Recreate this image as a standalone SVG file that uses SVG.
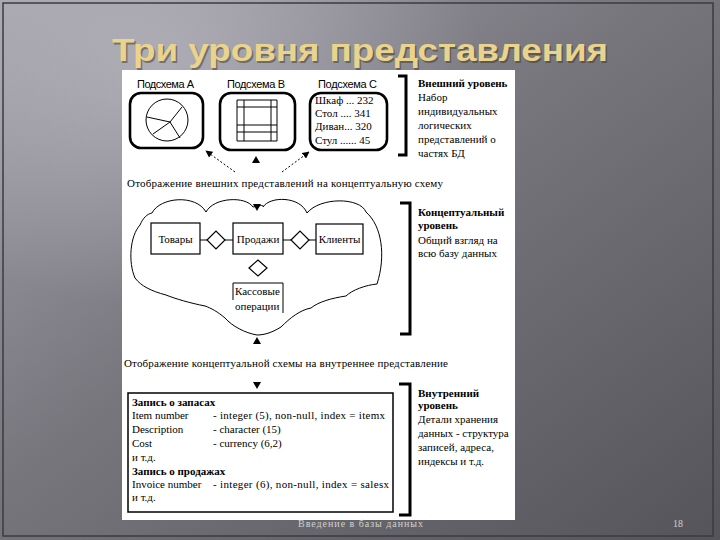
<svg xmlns="http://www.w3.org/2000/svg" width="720" height="540" viewBox="0 0 720 540">
<defs>
<linearGradient id="bg" x1="0" y1="0" x2="1" y2="1">
<stop offset="0" stop-color="#a3a1aa"/>
<stop offset="0.45" stop-color="#77767d"/>
<stop offset="1" stop-color="#55545a"/>
</linearGradient>
<radialGradient id="glow" cx="0.22" cy="0.12" r="0.45">
<stop offset="0" stop-color="#c0bec6" stop-opacity="0.6"/>
<stop offset="1" stop-color="#c0bec6" stop-opacity="0"/>
</radialGradient>
<marker id="ah" viewBox="0 0 10 10" refX="9" refY="5" markerWidth="7" markerHeight="7" orient="auto" markerUnits="userSpaceOnUse">
<path d="M0 0 L10 5 L0 10 Z" fill="#000"/>
</marker>
<style>
.t{font-family:"Liberation Serif","Times New Roman",serif;font-size:11px;fill:#000}
.b{font-weight:bold}
.s{font-family:"Liberation Sans",Arial,sans-serif;font-size:11px;fill:#000}
.box{fill:#fff;stroke:#000;stroke-width:1.2}
.rb{fill:#fff;stroke:#000;stroke-width:2.6}
.ln{fill:none;stroke:#000;stroke-width:1}
.br{fill:none;stroke:#000;stroke-width:3}
.dot{fill:none;stroke:#000;stroke-width:1;stroke-dasharray:2 2}
.tri{fill:#000}
</style>
</defs>
<rect x="0" y="0" width="720" height="540" fill="url(#bg)"/>
<rect x="0" y="0" width="720" height="540" fill="url(#glow)"/>
<rect x="3" y="3" width="710" height="533" fill="none" stroke="#3c3b40" stroke-width="1.5"/>
<text x="360" y="61" text-anchor="middle" font-family="'Liberation Sans',Arial,sans-serif" font-weight="bold" font-size="31" fill="#3a3930" opacity="0.5" textLength="496" lengthAdjust="spacingAndGlyphs" transform="translate(1.5,1.5)">Три уровня представления</text>
<text x="360" y="61" text-anchor="middle" font-family="'Liberation Sans',Arial,sans-serif" font-weight="bold" font-size="31" fill="#ead38c" textLength="496" lengthAdjust="spacingAndGlyphs">Три уровня представления</text>

<rect x="122" y="70" width="393" height="450" fill="#fff"/>

<g id="schemaA">
<text class="s" x="137" y="88" textLength="57">Подсхема А</text>
<rect class="rb" x="130" y="93" width="73" height="55" rx="11"/>
<circle class="ln" cx="167" cy="120" r="21"/>
<path class="ln" d="M147 117 L170 122 L182 107 M170 122 L153 134 M170 122 L180 138"/>
</g>
<g id="schemaB">
<text class="s" x="227" y="88" textLength="58">Подсхема В</text>
<rect class="rb" x="220" y="93" width="75" height="57" rx="11"/>
<path class="ln" d="M237 100 V141 M244 100 V141 M271 100 V141 M277 100 V141 M237 100 H277 M237 107 H277 M237 125 H277 M237 132 H277 M237 141 H277"/>
</g>
<g id="schemaC">
<text class="s" x="318" y="88" textLength="59">Подсхема С</text>
<rect class="rb" x="310" y="93" width="77" height="57" rx="11"/>
<text class="t" x="315" y="104">Шкаф ... 232</text>
<text class="t" x="315" y="117">Стол .... 341</text>
<text class="t" x="315" y="130">Диван... 320</text>
<text class="t" x="315" y="144">Стул ...... 45</text>
</g>
<g id="externalLevel">
<path class="br" d="M398 76 H406 V155 H398"/>
<text class="t b" x="418" y="87">Внешний уровень</text>
<text class="t" x="418" y="101">Набор</text>
<text class="t" x="418" y="115">индивидуальных</text>
<text class="t" x="418" y="129">логических</text>
<text class="t" x="418" y="143">представлений о</text>
<text class="t" x="418" y="157">частях БД</text>
</g>
<g id="mapping1">
<text class="t" x="127" y="187" textLength="316">Отображение внешних представлений на концептуальную схему</text>
</g>

<g id="cloud">
<path class="ln" d="M152 213 C160 197 196 194 206 212 C214 197 246 196 253 207 C262 205 264 205 263 207 C270 196 300 196 307 213 C320 197 360 197 366 212 C382 226 386 256 377 284 C366 285 352 290 346 296 C332 298 318 302 311 308 C300 310 290 318 281 327 C273 332 265 335 257 335 C245 333 232 326 225 318 C218 312 211 308 205 306 C190 303 176 299 166 295 C151 291 141 286 135 278 C128 262 130 236 140 225 C143 218 147 214 152 213 Z"/>
</g>
<g id="tovary">
<rect class="box" x="151" y="223" width="49" height="31"/>
<text class="t" x="175.5" y="243" text-anchor="middle">Товары</text>
</g>
<g id="prodazhi">
<rect class="box" x="233" y="223" width="50" height="31"/>
<text class="t" x="258" y="243" text-anchor="middle">Продажи</text>
</g>
<g id="klienty">
<rect class="box" x="316" y="224" width="47" height="30"/>
<text class="t" x="339.5" y="243" text-anchor="middle">Клиенты</text>
</g>
<g id="rel1"><path class="box" d="M207 240 L216 231 L225 240 L216 249 Z"/></g>
<g id="rel2"><path class="box" d="M291 240 L300 231 L309 240 L300 249 Z"/></g>
<g id="rel3"><path class="box" d="M249 268 L258 260 L267 268 L258 276 Z"/></g>
<g id="kassa">
<path class="ln" d="M233 300 V283 H283 V313"/>
<text class="t" x="235" y="295">Кассовые</text>
<text class="t" x="235" y="310">операции</text>
</g>
<g id="conceptualLevel">
<path class="br" d="M400 203 H410 V334 H400"/>
<text class="t b" x="418" y="216">Концептуальный</text>
<text class="t b" x="418" y="229">уровень</text>
<text class="t" x="418" y="244">Общий взгляд на</text>
<text class="t" x="418" y="257">всю базу данных</text>
</g>
<g id="mapping2">
<text class="t" x="124" y="367" textLength="324">Отображение концептуальной схемы на внутреннее представление</text>
</g>

<g id="internalRecord">
<rect x="128" y="393" width="265" height="119" fill="#fff" stroke="#000" stroke-width="1.5"/>
<text class="t b" x="132" y="406">Запись о запасах</text>
<text class="t" x="132" y="419">Item number</text>
<text class="t" x="213" y="419" textLength="172">- integer (5), non-null, index = itemx</text>
<text class="t" x="132" y="433">Description</text>
<text class="t" x="213" y="433">- character (15)</text>
<text class="t" x="132" y="447">Cost</text>
<text class="t" x="213" y="447">- currency (6,2)</text>
<text class="t" x="132" y="461">и т.д.</text>
<text class="t b" x="132" y="475">Запись о продажах</text>
<text class="t" x="132" y="488">Invoice number</text>
<text class="t" x="213" y="488" textLength="176">- integer (6), non-null, index = salesx</text>
<text class="t" x="132" y="501">и т.д.</text>
</g>
<g id="internalLevel">
<path class="br" d="M399 384 H410 V515 H399"/>
<text class="t b" x="418" y="397">Внутренний</text>
<text class="t b" x="418" y="409">уровень</text>
<text class="t" x="418" y="423">Детали хранения</text>
<text class="t" x="418" y="437">данных - структура</text>
<text class="t" x="418" y="451">записей, адреса,</text>
<text class="t" x="418" y="465">индексы и т.д.</text>
</g>

<g id="connectors">
<line class="dot" x1="235" y1="172" x2="206" y2="151" marker-end="url(#ah)"/>
<line class="dot" x1="282" y1="172" x2="309" y2="152" marker-end="url(#ah)"/>
<polygon class="tri" points="252,163 260,163 256,156"/>
<polygon class="tri" points="253,204 261,204 257,211"/>
<polygon class="tri" points="253,344 261,344 257,337"/>
<polygon class="tri" points="253,382 261,382 257,389"/>
<line class="ln" x1="200" y1="240" x2="207" y2="240"/>
<line class="ln" x1="225" y1="240" x2="233" y2="240"/>
<line class="ln" x1="283" y1="240" x2="291" y2="240"/>
<line class="ln" x1="309" y1="240" x2="316" y2="240"/>
</g>

<text x="298" y="527" font-family="'Liberation Serif',serif" font-size="10" fill="#d0d0d0" textLength="125">Введение в базы данных</text>
<text x="673" y="527" font-family="'Liberation Serif',serif" font-size="10" fill="#d0d0d0">18</text>
</svg>
